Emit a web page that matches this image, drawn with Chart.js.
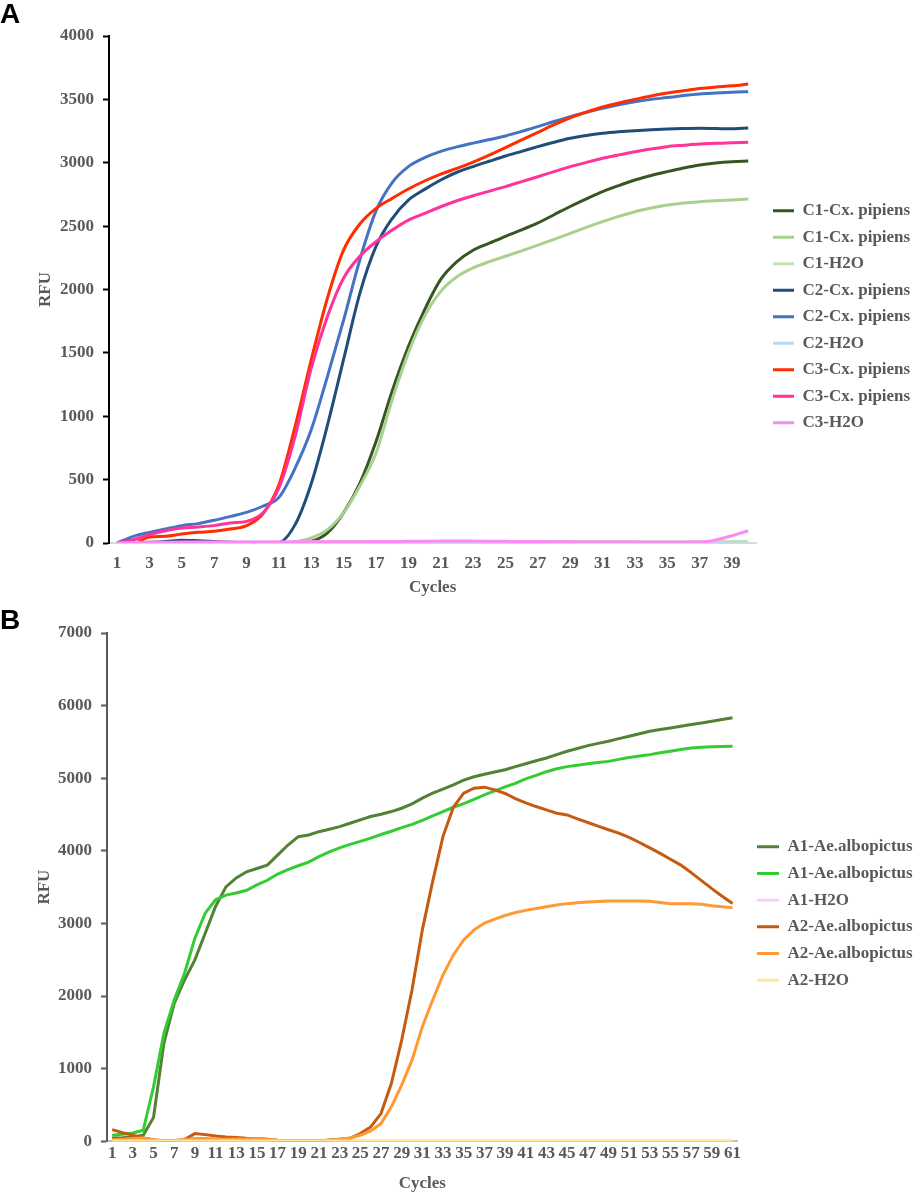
<!DOCTYPE html>
<html lang="en">

<head>
    <meta charset="UTF-8">
    <meta name="viewport" content="width=device-width, initial-scale=1.0">
    <title>RFU x Cycles</title>
    <script src="https://cdn.jsdelivr.net/npm/chart.js@4.4.0/dist/chart.umd.min.js"></script>
    <style>
        body {
            margin: 0;
            background: #ffffff;
        }

        canvas {
            position: absolute;
            left: 0;
        }

        .painel {
            position: absolute;
            left: 0;
            font: bold 28px "Liberation Sans", Arial, sans-serif;
            line-height: 28px;
            color: #000000;
        }
    </style>
</head>

<body onload="carregarGraficoA(), carregarGraficoB()">

    <canvas id="chartA" width="913" height="600" style="top: 0px"></canvas>
    <canvas id="chartB" width="913" height="594" style="top: 600px"></canvas>
    <div class="painel" style="top: 0px">A</div>
    <div class="painel" style="top: 606px">B</div>

    <script>
        // ---- painel A: 40 ciclos ----
        const ciclosA = [];
        for (let c = 1; c <= 40; c++) ciclosA.push(String(c));
        const ticksYA = [0, 500, 1000, 1500, 2000, 2500, 3000, 3500, 4000];

        const c1Pipiens1 = [0, 0, 0, 0, 0, 0, 0, 0, 0, 0, 0, 5, 15, 80, 240, 470, 800, 1200, 1550, 1840,
            2080, 2220, 2310, 2365, 2420, 2470, 2525, 2590, 2655, 2715, 2772, 2820, 2864, 2900, 2930, 2958, 2982, 2998, 3008, 3014];
        const c1Pipiens2 = [0, 0, 0, 0, 0, 0, 0, 0, 0, 0, 0, 10, 40, 105, 240, 450, 710, 1130, 1500, 1790,
            1985, 2100, 2170, 2220, 2262, 2305, 2350, 2396, 2443, 2490, 2535, 2577, 2614, 2643, 2667, 2682, 2693, 2700, 2707, 2714];
        const c1H2O = [0, 2, 3, 4, 5, 5, 6, 6, 7, 7, 8, 8, 9, 9, 10, 10, 10, 11, 11, 12,
            12, 12, 12, 12, 12, 12, 12, 12, 11, 11, 11, 11, 11, 11, 11, 12, 12, 12, 12, 12];
        const c2Pipiens1 = [0, 0, 5, 12, 22, 18, 12, 6, 2, 0, 5, 145, 470, 930, 1450, 1970, 2340, 2560, 2706, 2790,
            2864, 2925, 2970, 3012, 3053, 3090, 3127, 3162, 3193, 3215, 3232, 3244, 3253, 3260, 3266, 3270, 3272, 3270, 3268, 3274];
        const c2Pipiens2 = [0, 52, 84, 110, 137, 153, 179, 210, 242, 290, 360, 590, 895, 1315, 1760, 2235, 2620, 2843, 2969, 3040,
            3090, 3125, 3155, 3183, 3211, 3248, 3285, 3325, 3363, 3398, 3430, 3458, 3482, 3500, 3514, 3530, 3543, 3550, 3556, 3561];
        const c2H2O = [0, 1, 2, 3, 3, 4, 4, 4, 5, 5, 5, 5, 5, 6, 6, 6, 6, 6, 6, 7,
            7, 7, 7, 7, 7, 6, 6, 6, 6, 6, 6, 5, 5, 5, 5, 5, 5, 4, 4, 4];
        const c3Pipiens1 = [0, 0, 47, 53, 71, 84, 92, 110, 137, 229, 460, 920, 1447, 1933, 2312, 2517, 2640, 2719, 2793, 2856,
            2910, 2955, 3005, 3060, 3120, 3180, 3240, 3300, 3355, 3400, 3440, 3472, 3500, 3527, 3550, 3568, 3585, 3597, 3607, 3621];
        const c3Pipiens2 = [0, 26, 66, 97, 118, 126, 137, 158, 171, 237, 434, 842, 1381, 1788, 2091, 2262, 2377, 2469, 2548, 2600,
            2653, 2700, 2740, 2776, 2812, 2851, 2890, 2930, 2969, 3003, 3035, 3062, 3087, 3108, 3127, 3138, 3148, 3153, 3158, 3161];
        const c3H2O = [0, 3, 5, 6, 7, 7, 8, 8, 8, 8, 8, 9, 9, 9, 10, 10, 11, 12, 13, 14,
            15, 15, 15, 14, 13, 12, 11, 10, 9, 8, 8, 7, 7, 6, 6, 6, 7, 24, 58, 97];

        // ---- painel B: 61 ciclos ----
        const ciclosB = [];
        for (let c = 1; c <= 61; c++) ciclosB.push(String(c));
        const ticksYB = [0, 1000, 2000, 3000, 4000, 5000, 6000, 7000];

        const a1Albo1 = [46, 50, 60, 83, 327, 1348, 1900, 2222, 2498, 2866,
            3234, 3504, 3628, 3711, 3757, 3803, 3941, 4080, 4195, 4218,
            4264, 4297, 4333, 4380, 4426, 4472, 4504, 4541, 4587, 4647,
            4725, 4794, 4850, 4910, 4975, 5020, 5055, 5085, 5117, 5160,
            5200, 5240, 5278, 5325, 5371, 5410, 5449, 5480, 5509, 5545,
            5578, 5612, 5647, 5670, 5693, 5716, 5739, 5762, 5785, 5808,
            5832];
        const a1Albo2 = [83, 97, 115, 152, 750, 1486, 1946, 2314, 2797, 3142,
            3326, 3390, 3420, 3457, 3530, 3595, 3680, 3740, 3795, 3845,
            3920, 3985, 4040, 4090, 4130, 4175, 4225, 4270, 4320, 4365,
            4420, 4480, 4540, 4600, 4650, 4710, 4770, 4825, 4880, 4930,
            4990, 5040, 5090, 5130, 5160, 5180, 5200, 5215, 5232, 5260,
            5285, 5306, 5325, 5350, 5371, 5395, 5415, 5428, 5432, 5436,
            5440];
        const a1H2O = [6, 6, 5, 5, 5, 4, 4, 4, 4, 4,
            4, 4, 4, 4, 4, 4, 4, 4, 4, 4,
            4, 4, 4, 4, 4, 4, 4, 4, 4, 4,
            4, 4, 4, 4, 4, 4, 4, 4, 4, 4,
            4, 4, 4, 4, 4, 4, 4, 4, 4, 4,
            4, 4, 4, 4, 4, 4, 4, 4, 4, 4,
            4];
        const a2Albo1 = [161, 120, 83, 46, 23, 9, 12, 23, 106, 92,
            74, 60, 51, 41, 37, 28, 14, 5, 5, 5,
            5, 18, 28, 41, 106, 198, 382, 796, 1394, 2084,
            2912, 3580, 4200, 4600, 4794, 4863, 4877, 4840, 4790, 4720,
            4660, 4610, 4565, 4518, 4495, 4440, 4390, 4340, 4290, 4245,
            4185, 4115, 4040, 3965, 3885, 3804, 3700, 3590, 3480, 3375,
            3274];
        const a2Albo2 = [23, 28, 37, 46, 14, 5, 8, 23, 37, 37,
            32, 28, 30, 30, 37, 28, 14, 5, 5, 5,
            5, 14, 28, 46, 83, 143, 244, 474, 773, 1118,
            1578, 1946, 2291, 2567, 2774, 2912, 3004, 3060, 3110, 3150,
            3180, 3205, 3230, 3255, 3273, 3285, 3296, 3302, 3308, 3309,
            3309, 3309, 3305, 3290, 3273, 3273, 3273, 3265, 3245, 3230,
            3218];
        const a2H2O = [3, 3, 3, 3, 3, 3, 3, 3, 3, 3,
            3, 3, 3, 3, 3, 3, 3, 3, 3, 3,
            3, 3, 3, 3, 3, 3, 3, 3, 3, 3,
            3, 3, 3, 3, 3, 3, 3, 3, 3, 3,
            3, 3, 3, 3, 3, 3, 3, 3, 3, 3,
            3, 3, 3, 3, 3, 3, 3, 3, 3, 3,
            3];

        const fonte = { family: "'Liberation Serif', 'Times New Roman', serif", size: 17, weight: 'bold' };
        const cinza = '#595959';

        // empurra a legenda para a direita sem mexer na area do grafico
        const moverLegenda = {
            id: 'moverLegenda',
            afterLayout(chart, args, opts) {
                const leg = chart.legend;
                const dx = opts.x - (leg.left + leg.options.labels.padding);
                leg.left += dx;
                leg.right += dx;
            }
        };

        function serie(label, dados, cor) {
            return {
                label: label,
                data: dados,
                borderColor: cor,
                backgroundColor: cor,
                borderWidth: 3,
                pointRadius: 0
            };
        }

        // ultima serie por cima, como no Excel
        function empilhar(series) {
            series.forEach(function (s, i) { s.order = series.length - i; });
            return series;
        }

        function opcoes(cfg) {
            return {
                responsive: false,
                animation: false,
                events: [],
                layout: { padding: { top: cfg.topo, bottom: cfg.base, left: 0, right: 0 } },
                scales: {
                    x: {
                        offset: true,
                        grid: { display: false, drawTicks: false },
                        border: { display: true, color: cfg.corEixoX, width: 2 },
                        ticks: {
                            autoSkip: false, maxRotation: 0, minRotation: 0,
                            padding: cfg.padX, color: cinza, font: fonte,
                            callback: function (v, i) { return i % 2 === 0 ? cfg.ciclos[i] : ''; }
                        },
                        title: { display: true, text: 'Cycles', color: cinza, font: fonte, padding: { top: 0, bottom: 0 } },
                        afterFit: function (eixo) { eixo.height = cfg.altX; }
                    },
                    y: {
                        min: cfg.ticksY[0],
                        max: cfg.ticksY[cfg.ticksY.length - 1],
                        ticks: {
                            stepSize: cfg.ticksY[1] - cfg.ticksY[0],
                            padding: 9, color: cinza, font: fonte,
                            callback: function (v) { return String(v); }
                        },
                        grid: { drawOnChartArea: false, drawTicks: true, tickLength: 6, color: cfg.corEixoY, tickWidth: 2 },
                        border: { display: true, color: cfg.corEixoY, width: 2 },
                        title: { display: true, text: 'RFU', color: cinza, font: fonte, padding: { top: cfg.padRFU, bottom: 0 } },
                        afterFit: function (eixo) { eixo.width = cfg.largY; }
                    }
                },
                plugins: {
                    legend: {
                        position: 'right',
                        labels: {
                            usePointStyle: true,
                            pointStyle: 'line',
                            pointStyleWidth: cfg.linhaLeg,
                            padding: cfg.padLeg,
                            color: cinza,
                            font: fonte,
                            sort: function (a, b) { return a.datasetIndex - b.datasetIndex; }
                        }
                    },
                    tooltip: { enabled: false },
                    moverLegenda: { x: cfg.xLeg }
                }
            };
        }

        function carregarGraficoA() {
            const series = empilhar([
                serie('C1-Cx. pipiens', c1Pipiens1, '#375623'),
                serie('C1-Cx. pipiens', c1Pipiens2, '#a9d18e'),
                serie('C1-H2O', c1H2O, '#c5e0b4'),
                serie('C2-Cx. pipiens', c2Pipiens1, '#1f4e79'),
                serie('C2-Cx. pipiens', c2Pipiens2, '#4472c4'),
                serie('C2-H2O', c2H2O, '#bdd7ee'),
                serie('C3-Cx. pipiens', c3Pipiens1, '#ff2d00'),
                serie('C3-Cx. pipiens', c3Pipiens2, '#ff3399'),
                serie('C3-H2O', c3H2O, '#ff88f5')
            ]);
            series.forEach(function (s) { s.cubicInterpolationMode = 'monotone'; });

            new Chart(document.getElementById('chartA'), {
                type: 'line',
                data: { labels: ciclosA, datasets: series },
                plugins: [moverLegenda],
                options: opcoes({
                    ciclos: ciclosA, ticksY: ticksYA,
                    topo: 36, base: 2.6, altX: 54.4, largY: 109, padX: 10.8, padRFU: 35.5,
                    corEixoX: '#d9d9d9', corEixoY: '#000000',
                    linhaLeg: 21, padLeg: 9.5, xLeg: 773
                })
            });
        }

        function carregarGraficoB() {
            const series = empilhar([
                serie('A1-Ae.albopictus', a1Albo1, '#548235'),
                serie('A1-Ae.albopictus', a1Albo2, '#33cc33'),
                serie('A1-H2O', a1H2O, '#ffccff'),
                serie('A2-Ae.albopictus', a2Albo1, '#c55a11'),
                serie('A2-Ae.albopictus', a2Albo2, '#ff9933'),
                serie('A2-H2O', a2H2O, '#ffe699')
            ]);

            new Chart(document.getElementById('chartB'), {
                type: 'line',
                data: { labels: ciclosB, datasets: series },
                plugins: [moverLegenda],
                options: opcoes({
                    ciclos: ciclosB, ticksY: ticksYB,
                    topo: 33, base: 0, altX: 52.7, largY: 107, padX: 1.8, padRFU: 34.8,
                    corEixoX: '#bfbfbf', corEixoY: '#595959',
                    linhaLeg: 22, padLeg: 9.67, xLeg: 757
                })
            });
        }
    </script>
</body>

</html>
